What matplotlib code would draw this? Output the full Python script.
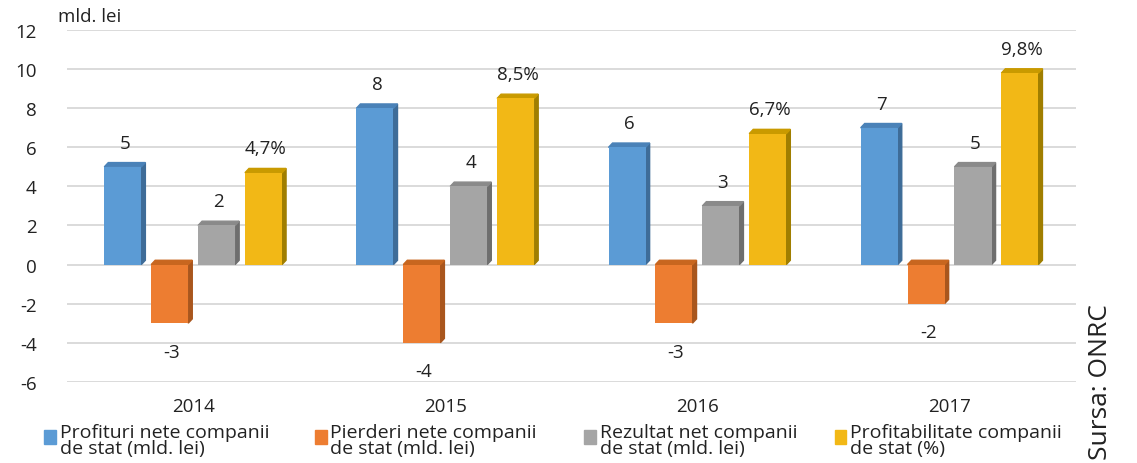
import numpy as np
import matplotlib.pyplot as plt
from matplotlib.patches import Polygon, Rectangle

# Date
years = ['2014', '2015', '2016', '2017']
profituri = [5, 8, 6, 7]
pierderi = [-3, -4, -3, -2]
rezultat = [2, 4, 3, 5]
profitabilitate = [4.7, 8.5, 6.7, 9.8]

series = [profituri, pierderi, rezultat, profitabilitate]
labels_fmt = ['{:g}', '{:g}', '{:g}', '{:.1f}%']
legend_labels = ['Profituri nete companii\nde stat (mld. lei)',
                 'Pierderi nete companii\nde stat (mld. lei)',
                 'Rezultat net companii\nde stat (mld. lei)',
                 'Profitabilitate companii\nde stat (%)']
front = ['#5B9BD5', '#ED7D31', '#A5A5A5', '#F2B816']
side = ['#3E6C98', '#A9561D', '#6E6E6E', '#A07E00']
top = ['#4A82B8', '#C8661F', '#8A8A8A', '#C99A00']

plt.rcParams['font.family'] = ['Open Sans', 'DejaVu Sans']
plt.rcParams['axes.unicode_minus'] = False

fig = plt.figure(figsize=(11.37, 4.64), dpi=100)
ax = fig.add_axes([0.059, 0.175, 0.887, 0.758])

x = np.arange(len(years))
width = 0.147
step = 0.186
dx = 0.016
dy = 0.22
fs = 13.5

for i, vals in enumerate(series):
    xs = x + (i - 1.5) * step
    for xc, v in zip(xs, vals):
        x0, x1 = xc - width / 2, xc + width / 2
        hi = max(v, 0)
        lo = min(v, 0)
        # fata laterala
        ax.add_patch(Polygon([(x1, lo), (x1 + dx, lo + dy), (x1 + dx, hi + dy), (x1, hi)],
                             closed=True, color=side[i], zorder=3))
        # fata de sus
        ax.add_patch(Polygon([(x0, hi), (x0 + dx, hi + dy), (x1 + dx, hi + dy), (x1, hi)],
                             closed=True, color=top[i], zorder=3))
        ax.bar(xc, v, width, color=front[i], zorder=4)
        txt = labels_fmt[i].format(v).replace('.', ',')
        if v >= 0:
            ax.annotate(txt, (xc + dx / 2, v), xytext=(0, 11), textcoords='offset points',
                        ha='center', va='bottom', fontsize=fs, color='#222222')
        else:
            ax.annotate(txt, (xc + dx / 2, v), xytext=(0, -14), textcoords='offset points',
                        ha='center', va='top', fontsize=fs, color='#222222')

ax.set_xlim(-0.5, 3.5)
ax.set_ylim(-6, 12)
ax.set_yticks(np.arange(-6, 13, 2))
ax.set_xticks(x)
ax.set_xticklabels(years)
ax.tick_params(axis='both', length=0, labelsize=fs, colors='#222222')
ax.tick_params(axis='y', pad=22)
ax.tick_params(axis='x', pad=11)
ax.yaxis.grid(True, color='#D4D4D4', linewidth=1.2, zorder=0)
ax.set_axisbelow(True)
for s in ax.spines.values():
    s.set_visible(False)

fig.text(0.051, 0.945, 'mld. lei', fontsize=fs, color='#222222', ha='left', va='bottom')

# legenda
leg_x = [0.039, 0.277, 0.514, 0.734]
for i, lx in enumerate(leg_x):
    fig.patches.append(Rectangle((lx, 0.042), 0.0105, 0.03, transform=fig.transFigure,
                                 color=front[i]))
    fig.text(lx + 0.0135, 0.087, legend_labels[i], fontsize=14, color='#222222',
             ha='left', va='top', linespacing=0.9)

fig.text(0.968, 0.008, 'Sursa: ONRC', rotation=90, fontsize=19, color='#222222',
         ha='center', va='bottom')

fig.savefig('out.png', dpi=100)
